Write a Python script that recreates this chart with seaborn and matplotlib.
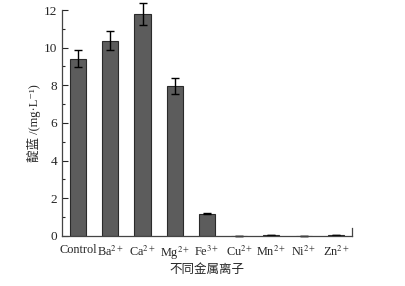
import pandas as pd
import matplotlib
matplotlib.use('Agg')
import matplotlib.pyplot as plt
import seaborn as sns

# data
ions = ['Control', 'Ba$^{2+}$', 'Ca$^{2+}$', 'Mg$^{2+}$', 'Fe$^{3+}$',
        'Cu$^{2+}$', 'Mn$^{2+}$', 'Ni$^{2+}$', 'Zn$^{2+}$']
values = [9.42, 10.38, 11.8, 7.98, 1.18, 0.0, 0.04, 0.0, 0.04]
errors = [0.47, 0.53, 0.58, 0.42, 0.04, 0.0, 0.0, 0.0, 0.0]

sns.set_style('ticks')
plt.rcParams['font.family'] = ['Liberation Serif', 'Noto Sans CJK SC', 'DejaVu Serif']
plt.rcParams['mathtext.fontset'] = 'stix'

df = pd.DataFrame({'ion': ions, 'value': values, 'err': errors})

fig = plt.figure(figsize=(4.05, 2.86), dpi=100)
ax = fig.add_axes([0.153, 0.175, 0.716, 0.79])

sns.barplot(data=df, x='ion', y='value', color='#5c5c5c', width=0.5,
            edgecolor='#2a2a2a', linewidth=0.8, saturation=1, ax=ax)
eb = ax.errorbar(range(len(ions)), df['value'], yerr=df['err'], fmt='none',
                 ecolor='black', elinewidth=1, capsize=3, capthick=1)
for art in eb.lines[1] + eb.lines[2]:
    art.set_clip_on(False)

ax.set_xlim(-0.5, 8.5)
ax.set_ylim(0, 12)
ax.set_yticks(range(0, 13, 2))
ax.set_yticks(range(1, 12, 2), minor=True)
ax.tick_params(axis='y', which='major', direction='in', length=4, width=0.8, labelsize=9.5)
ax.tick_params(axis='y', which='minor', direction='in', length=2, width=0.8)
ax.tick_params(axis='x', length=0, labelsize=8.8, pad=6)

ax.set_xlabel('不同金属离子', fontsize=9, labelpad=2)
ax.set_ylabel('靛蓝 /(mg·L⁻¹)', fontsize=9, labelpad=2)

for s in ['left', 'bottom', 'right']:
    ax.spines[s].set_color('#444444')
    ax.spines[s].set_linewidth(0.9)
ax.spines['top'].set_visible(False)
ax.spines['right'].set_visible(True)
ax.spines['right'].set_bounds(0, 0.4)

plt.savefig('out.png', dpi=100)
plt.close()
